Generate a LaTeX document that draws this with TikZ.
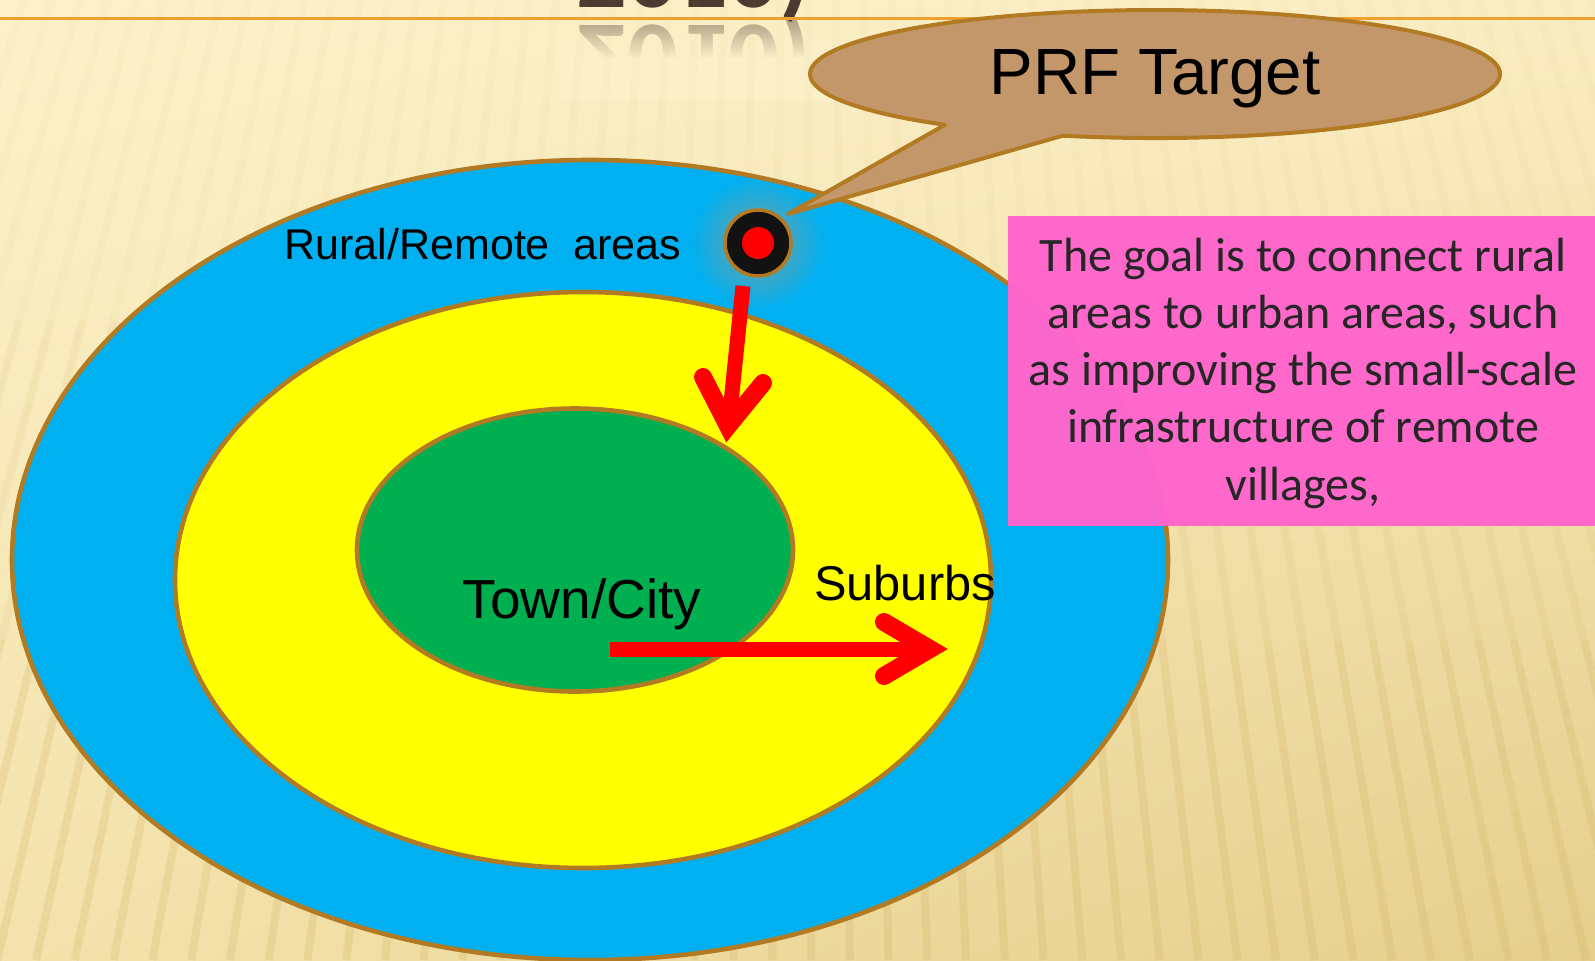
\documentclass[tikz,border=0pt]{standalone}
\usepackage{fontspec}
\setmainfont{Liberation Sans}
\newfontfamily\carlito{Carlito}
\usetikzlibrary{fadings,shadings,shapes.geometric}
\tikzfading[name=halofade, inner color=transparent!0, outer color=transparent!100]
\tikzfading[name=reflfade, top color=transparent!100, bottom color=transparent!0]
\definecolor{bgUL}{HTML}{FCF1CA}
\definecolor{bgUR}{HTML}{FAEDC2}
\definecolor{bgLL}{HTML}{F3E2AB}
\definecolor{bgLR}{HTML}{E6CF8C}
\definecolor{stripeC}{HTML}{C9A550}
\definecolor{outl}{HTML}{B27A22}
\definecolor{ruralC}{HTML}{00B0F0}
\definecolor{suburbC}{HTML}{FFFF00}
\definecolor{townC}{HTML}{00B050}
\definecolor{calloutC}{HTML}{C4976B}
\definecolor{pinkC}{HTML}{FF66CC}
\definecolor{titleC}{HTML}{4A3A2F}
\definecolor{ruleC}{HTML}{F0A030}
\definecolor{haloC}{HTML}{7E9E9C}
\definecolor{textC}{HTML}{262626}
\definecolor{topbg}{HTML}{FBF0C8}
\begin{document}
\begin{tikzpicture}[x=0.5pt,y=-0.5pt,
  zone/.style={ellipse, draw=outl, line width=2.3pt, inner sep=0pt},
  stripe/.style={draw=stripeC, line width=4pt},
  shaft/.style={draw=red, line width=7.5pt, line cap=butt},
  head/.style={draw=red, line width=9pt, line cap=round, line join=miter},
  lab/.style={inner sep=0pt, text=black, anchor=base},
  goal/.style={inner sep=0pt, text=textC, anchor=base, font=\carlito\fontsize{24}{28}\selectfont},
  titletext/.style={anchor=base west, inner sep=0pt, text=titleC, font=\carlito\bfseries\fontsize{50}{60}\selectfont},
]
\useasboundingbox (0,0) rectangle (1595,960);
% background
\shade[upper left=bgUL, upper right=bgUR, lower left=bgLL, lower right=bgLR] (0,0) rectangle (1595,960);
% title remnant and its reflection
\node[titletext] (title) at (576,7) {2010)};
\node[titletext, opacity=0.4, yscale=-1] (titlerefl) at (576,25) {2010)};
\fill[topbg, path fading=reflfade] (560,22) rectangle (840,58);
\fill[topbg] (560,58) rectangle (840,100);
% stripes
\foreach \i in {0,...,62}{
  \pgfmathsetmacro\xa{-60+\i*28}
  \pgfmathsetmacro\xb{800+(\xa-800)*1.128}
  \pgfmathsetmacro\xc{800+(\xa-800)*1.256}
  \pgfmathsetmacro\xd{800+(\xa-800)*1.384}
  \draw[stripe, draw opacity=.04] (\xa,0) -- (\xb,320);
  \draw[stripe, draw opacity=.10] (\xb,320) -- (\xc,640);
  \draw[stripe, draw opacity=.18] (\xc,640) -- (\xd,960);
}
% header rule
\draw[ruleC, line width=1.5pt] (0,18) -- (1595,18);
% zones
\node[zone, fill=ruralC, minimum width=578pt, minimum height=400pt] (rural) at (590,560) {};
\node[zone, fill=suburbC, minimum width=408pt, minimum height=288pt] (suburb) at (583,580) {};
\node[zone, fill=townC, minimum width=218pt, minimum height=141.5pt] (town) at (575,550) {};
% target dot
\coordinate (dotc) at (758,243);
\fill[haloC, path fading=halofade] (dotc) circle[radius=66];
\node[circle, fill=black!93, draw=outl, line width=1.75pt, minimum size=33pt, inner sep=0pt] (dot) at (dotc) {};
\node[circle, fill=red, minimum size=16pt, inner sep=0pt] (dotcore) at (dotc) {};
% callout
\coordinate (tailtip) at (788,214);
\coordinate (tailbase) at (945,124.8);
\path[fill=calloutC, draw=outl, line width=2pt, line join=round] (tailtip) -- (tailbase) arc[start angle=127.5, end angle=465.5, x radius=345, y radius=64] -- cycle;
\node[lab, font=\fontsize{32.7}{38}\selectfont] (prf) at (1155,94) {PRF Target};
% labels
\node[lab, font=\fontsize{21.5}{25}\selectfont] (rurallab) at (483,259) {Rural/Remote\ \ areas};
\node[lab, font=\fontsize{27.5}{32}\selectfont] (townlab) at (582,618) {Town/City};
\node[lab, font=\fontsize{24.4}{30}\selectfont] (suburblab) at (905,600) {Suburbs};
% goal box
\node[fill=pinkC, fill opacity=0.98, minimum width=293.5pt, minimum height=155pt, inner sep=0pt, anchor=north west] (goalbox) at (1008,216) {};
\node[goal] (g1) at (1303,271) {The goal is to connect rural};
\node[goal] (g2) at (1303,328.25) {areas to urban areas, such};
\node[goal] (g3) at (1303,385.5) {as improving the small-scale};
\node[goal] (g4) at (1303,442.75) {infrastructure of remote};
\node[goal] (g5) at (1303,500) {villages,};
% arrows
\coordinate (dA0) at (743,286);
\coordinate (dA1) at (729,422);
\coordinate (dL) at (703,377);
\coordinate (dT) at (728,426);
\coordinate (dR) at (763,383);
\draw[shaft] (dA0) -- (dA1);
\draw[head] (dL) -- (dT) -- (dR);
\coordinate (rA0) at (610,649);
\coordinate (rA1) at (925,649);
\coordinate (rU) at (884,622);
\coordinate (rT) at (930,649);
\coordinate (rD) at (884,676);
\draw[shaft] (rA0) -- (rA1);
\draw[head] (rU) -- (rT) -- (rD);
\end{tikzpicture}
\end{document}
